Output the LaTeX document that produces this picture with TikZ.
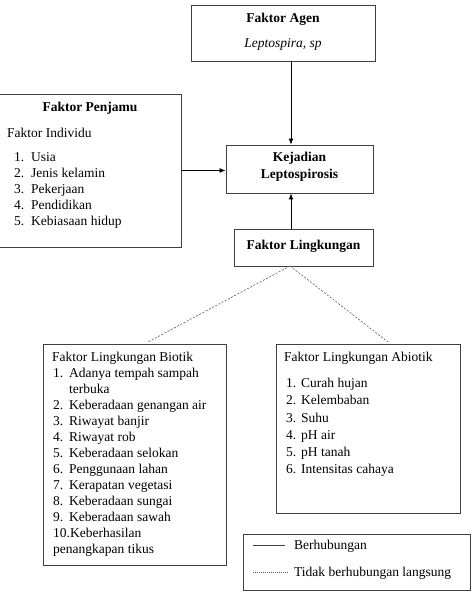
\documentclass[tikz,border=0pt]{standalone}
\usepackage{fontspec}
\setmainfont{Liberation Serif}
\usetikzlibrary{arrows.meta}
\begin{document}
\begin{tikzpicture}[x=1pt,y=-1pt,
  box/.style={draw=black!75,line width=0.8pt,inner sep=0pt,rectangle},
  txt/.style={inner sep=0pt,text height=9pt,text depth=0pt,font=\fontsize{13.5}{16}\selectfont},
  lt/.style={txt,anchor=west},
  ct/.style={txt,anchor=center},
  arr/.style={line width=0.9pt,-{Latex[length=6pt,width=5pt]}},
  dsh/.style={draw=black!65,line width=0.6pt,dash pattern=on 2pt off 1.6pt}]
\useasboundingbox (0,0) rectangle (474,592);
% boxes
\node[box,minimum width=184,minimum height=56] (agen) at (283,33) {};
\node[box,minimum width=182,minimum height=153] (penj) at (90,170.5) {};
\node[box,minimum width=147,minimum height=48] (kej) at (299.5,169) {};
\node[box,minimum width=139,minimum height=37] (ling) at (303.5,247.5) {};
\node[box,minimum width=183,minimum height=221] (bio) at (134.5,454.5) {};
\node[box,minimum width=184,minimum height=169] (abio) at (368,428.5) {};
\node[box,minimum width=227,minimum height=56] (leg) at (356.5,562) {};
% agen text
\node[ct,font=\fontsize{13.5}{16}\selectfont\bfseries] (agent) at (283,18) {Faktor Agen};
\node[ct,font=\fontsize{13.5}{16}\selectfont\itshape] (agens) at (283,43) {Leptospira, sp};
% penjamu text
\node[ct,font=\fontsize{13.5}{16}\selectfont\bfseries] (penjt) at (90,107) {Faktor Penjamu};
\node[lt] (penji) at (7,133) {Faktor Individu};
\foreach \n/\t/\y in {1/Usia/157,2/Jenis kelamin/173,3/Pekerjaan/189,4/Pendidikan/205,5/Kebiasaan hidup/221}{
  \node[lt] (pn\n) at (14,\y) {\n.};
  \node[lt] (pt\n) at (31,\y) {\t};
}
% kejadian
\node[ct,font=\fontsize{13.5}{16}\selectfont\bfseries] (kej1) at (299.5,157) {Kejadian};
\node[ct,font=\fontsize{13.5}{16}\selectfont\bfseries] (kej2) at (299.5,174) {Leptospirosis};
% lingkungan
\node[ct,font=\fontsize{13.5}{16}\selectfont\bfseries] (lingt) at (303.5,245) {Faktor Lingkungan};
% biotik
\node[lt] (biot) at (52,357) {Faktor Lingkungan Biotik};
\foreach \n/\t/\y in {1/Adanya tempah sampah/373,2/Keberadaan genangan air/405,3/Riwayat banjir/421,4/Riwayat rob/437,5/Keberadaan selokan/453,6/Penggunaan lahan/469,7/Kerapatan vegetasi/485,8/Keberadaan sungai/501,9/Keberadaan sawah/517}{
  \node[lt] (bn\n) at (53,\y) {\n.};
  \node[lt] (bt\n) at (69,\y) {\t};
}
\node[lt] (bt1b) at (69,389) {terbuka};
\node[lt] (bt10) at (53,533) {10.Keberhasilan};
\node[lt] (bt10b) at (53,549) {penangkapan tikus};
% abiotik
\node[lt] (abiot) at (284,357) {Faktor Lingkungan Abiotik};
\foreach \n/\t/\y in {1/Curah hujan/383,2/Kelembaban/400,3/Suhu/417.5,4/pH air/435,5/pH tanah/452,6/Intensitas cahaya/469}{
  \node[lt] (an\n) at (286,\y) {\n.};
  \node[lt] (at\n) at (301,\y) {\t};
}
% legend
\coordinate (l1a) at (253,545);
\coordinate (l1b) at (285,545);
\coordinate (l2a) at (253,572);
\coordinate (l2b) at (288,572);
\draw[black!75,line width=0.7pt] (l1a) -- (l1b);
\draw[black!65,line width=0.6pt,dash pattern=on 1pt off 1pt] (l2a) -- (l2b);
\node[lt] (leg1) at (294,545) {Berhubungan};
\node[lt] (leg2) at (294,572) {Tidak berhubungan langsung};
% connectors
\coordinate (lx) at (291,0);
\draw[arr] (agen.south -| lx) -- (kej.north -| lx);
\draw[arr] (ling.north -| lx) -- (kej.south -| lx);
\draw[arr] (penj.east) -- (kej.west |- penj.east);
\coordinate (dtop) at (290,266);
\coordinate (dl) at (148,342);
\coordinate (dr) at (388,342);
\draw[dsh] (dtop) -- (dl);
\draw[dsh] (dtop) -- (dr);
\end{tikzpicture}
\end{document}
